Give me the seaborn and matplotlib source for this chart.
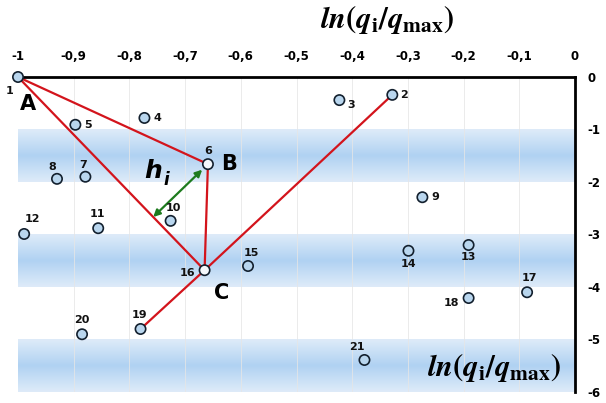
import numpy as np
import pandas as pd
import matplotlib
matplotlib.use('Agg')
import matplotlib.pyplot as plt
import seaborn as sns

# point data: ln(q_i/q_max) on x, second ln value on y
point_ids = list(range(1, 22))
x_vals = [-1.0, -0.328, -0.423, -0.773, -0.897, -0.659, -0.879, -0.930, -0.274, -0.726,
          -0.856, -0.989, -0.191, -0.299, -0.587, -0.665, -0.086, -0.191, -0.780, -0.885, -0.378]
y_vals = [0.0, -0.34, -0.44, -0.78, -0.91, -1.66, -1.90, -1.94, -2.29, -2.74,
          -2.88, -2.99, -3.20, -3.31, -3.60, -3.68, -4.10, -4.21, -4.80, -4.90, -5.39]
open_points = [6, 16]
# red segments between point ids
segments = [(1, 6), (1, 16), (6, 16), (16, 2), (16, 19)]
x_ticks = [-1, -0.9, -0.8, -0.7, -0.6, -0.5, -0.4, -0.3, -0.2, -0.1, 0]
x_tick_labels = ['-1', '-0,9', '-0,8', '-0,7', '-0,6', '-0,5', '-0,4', '-0,3', '-0,2', '-0,1', '0']
y_ticks = [0, -1, -2, -3, -4, -5, -6]
bands = [(-2, -1), (-4, -3), (-6, -5)]

# label offsets in pixels (dx, dy, ha)
label_pos = {1: (-8, -14, 'center'), 2: (8, 0, 'left'), 3: (8, -5, 'left'), 4: (9, 0, 'left'),
             5: (9, 0, 'left'), 6: (0, 13, 'center'), 7: (-2, 12, 'center'), 8: (-5, 12, 'center'),
             9: (9, 0, 'left'), 10: (3, 13, 'center'), 11: (-1, 14, 'center'), 12: (8, 15, 'center'),
             13: (0, -12, 'center'), 14: (0, -13, 'center'), 15: (3, 13, 'center'), 16: (-9, -3, 'right'),
             17: (2, 14, 'center'), 18: (-9, -5, 'right'), 19: (-1, 14, 'center'), 20: (0, 14, 'center'),
             21: (-8, 13, 'center')}

df = pd.DataFrame({'id': point_ids, 'x': x_vals, 'y': y_vals})
df['kind'] = np.where(df['id'].isin(open_points), 'open', 'filled')

sns.set_style('white')
plt.rcParams['font.family'] = ['DejaVu Sans']
plt.rcParams['mathtext.fontset'] = 'stix'
plt.rcParams['text.color'] = 'black'
plt.rcParams['xtick.color'] = 'black'
plt.rcParams['ytick.color'] = 'black'

fig = plt.figure(figsize=(6.06, 4.03), dpi=100)
ax = fig.add_axes([18/606, 1-392/403, (575-18)/606, (392-77)/403])

# gradient bands
edge = np.array([222, 235, 249]) / 255
center = np.array([176, 210, 242]) / 255
s = np.linspace(0, 1, 64)
t = 1 - np.abs(2*s - 1)
grad = edge[None, :] + t[:, None]*(center - edge)[None, :]
grad = grad[:, None, :]
for lo, hi in bands:
    ax.imshow(grad, extent=[-1, 0, lo, hi], aspect='auto', origin='lower', zorder=0)

for xt in x_ticks[1:-1]:
    ax.axvline(xt, color='#e6e6e6', lw=0.7, alpha=0.8, zorder=1)

xy = df.set_index('id')[['x', 'y']]
for a, b in segments:
    ax.plot([xy.loc[a, 'x'], xy.loc[b, 'x']], [xy.loc[a, 'y'], xy.loc[b, 'y']],
            color='#d3141c', lw=1.6, zorder=2, solid_capstyle='round')

sns.scatterplot(data=df, x='x', y='y', hue='kind', palette={'filled': '#b9d6ee', 'open': '#f4f8fc'},
                edgecolor='#13202e', linewidth=1.2, s=55, legend=False, ax=ax, zorder=4, clip_on=False)

for pid, (dx, dy, ha) in label_pos.items():
    ax.annotate(str(pid), (xy.loc[pid, 'x'], xy.loc[pid, 'y']), xytext=(dx, dy),
                textcoords='offset pixels', ha=ha, va='center', fontsize=8, fontweight='bold',
                color='#111111', zorder=5)

ax.set_xlim(-1, 0)
ax.set_ylim(-6, 0)

# h_i: perpendicular from B to line AC, in display space
fig.canvas.draw()
tr = ax.transData
A = tr.transform((xy.loc[1, 'x'], xy.loc[1, 'y']))
B = tr.transform((xy.loc[6, 'x'], xy.loc[6, 'y']))
C = tr.transform((xy.loc[16, 'x'], xy.loc[16, 'y']))
u = (C - A) / np.linalg.norm(C - A)
foot = A + np.dot(B - A, u) * u
d = (foot - B) / np.linalg.norm(foot - B)
p_start = tr.inverted().transform(B + d*8)
p_end = tr.inverted().transform(foot)
ax.annotate('', xy=p_end, xytext=p_start,
            arrowprops=dict(arrowstyle='<|-|>', color='#1e7b1e', lw=1.6, mutation_scale=10,
                            shrinkA=0, shrinkB=0), zorder=3)

fig.text(153/606, 1-171/403, 'h', fontsize=18, fontweight='bold', fontstyle='italic', ha='center', va='center')
fig.text(166/606, 1-180/403, 'i', fontsize=12, fontweight='bold', fontstyle='italic', ha='center', va='center')
fig.text(28/606, 1-104/403, 'A', fontsize=15, fontweight='bold', ha='center', va='center')
fig.text(229/606, 1-164/403, 'B', fontsize=15, fontweight='bold', ha='center', va='center')
fig.text(222/606, 1-293/403, 'C', fontsize=15, fontweight='bold', ha='center', va='center')

title = r'$\boldsymbol{ln}\mathbf{(}\boldsymbol{q}_{\mathbf{i}}\mathbf{/}\boldsymbol{q}_{\mathbf{max}}\mathbf{)}$'
fig.text(387/606, 1-19/403, title, fontsize=22, ha='center', va='center')
fig.text(494/606, 1-368/403, title, fontsize=22, ha='center', va='center')

ax.xaxis.tick_top()
ax.set_xticks(x_ticks)
ax.set_xticklabels(x_tick_labels, fontsize=8.5, fontweight='bold')
ax.yaxis.tick_right()
ax.set_yticks(y_ticks)
ax.set_yticklabels([str(v) for v in y_ticks], fontsize=8.5, fontweight='bold')
ax.tick_params(axis='x', length=0, pad=10)
ax.tick_params(axis='y', length=0, pad=9)
ax.set_xlabel('')
ax.set_ylabel('')
for side in ['left', 'bottom']:
    ax.spines[side].set_visible(False)
for side in ['top', 'right']:
    ax.spines[side].set_color('black')
    ax.spines[side].set_linewidth(2)

fig.savefig('out.png', dpi=100)
